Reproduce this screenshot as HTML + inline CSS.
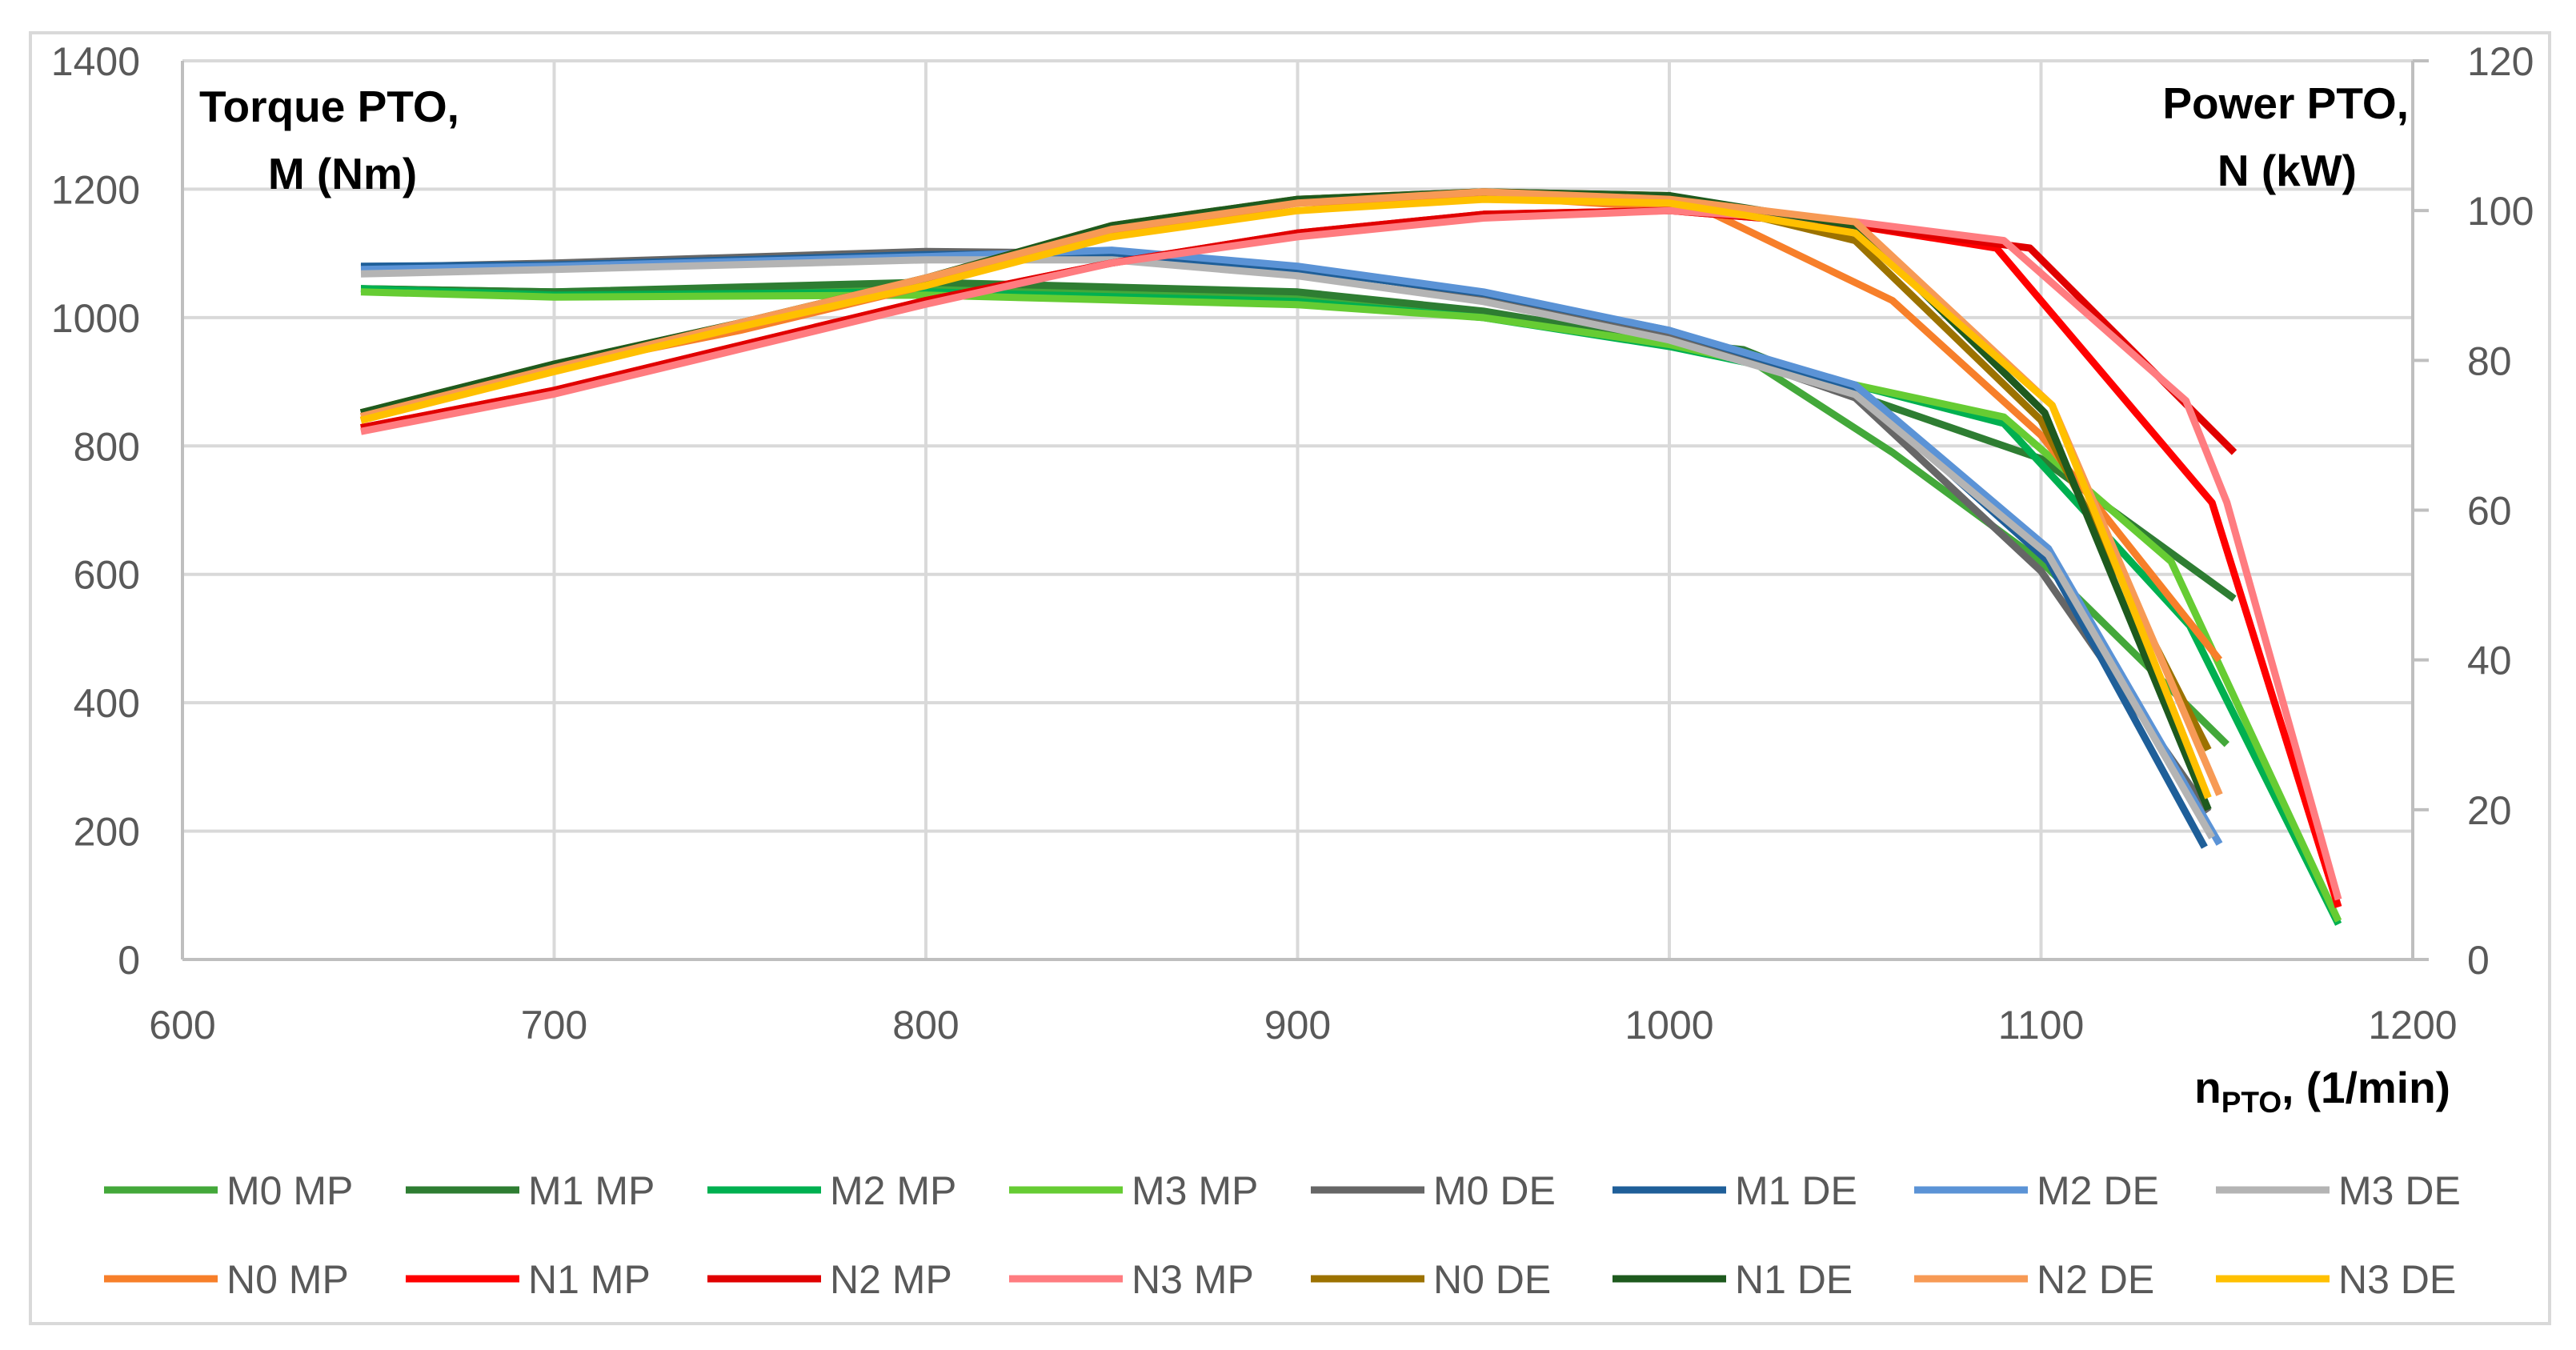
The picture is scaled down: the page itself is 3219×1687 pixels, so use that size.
<!DOCTYPE html>
<html><head><meta charset="utf-8">
<style>
html,body{margin:0;padding:0;background:#fff;}
svg{display:block;font-family:"Liberation Sans",sans-serif;}
</style></head>
<body>
<svg id="chart" width="3219" height="1687" viewBox="0 0 3219 1687">
<rect x="38" y="41" width="3148" height="1613" fill="#fff" stroke="#d9d9d9" stroke-width="4"/>
<g id="grid"></g>
<g id="series"></g>
<g id="labels"></g>
<text x="249" y="152" font-size="55" font-weight="bold" fill="#000">Torque PTO,</text>
<text x="428" y="236" font-size="55" font-weight="bold" fill="#000" text-anchor="middle">M (Nm)</text>
<text x="3010" y="148" font-size="55" font-weight="bold" fill="#000" text-anchor="end">Power PTO,</text>
<text x="2945" y="232" font-size="55" font-weight="bold" fill="#000" text-anchor="end">N (kW)</text>
<text x="3062" y="1378" font-size="55" font-weight="bold" fill="#000" text-anchor="end">n<tspan font-size="37" dy="12">PTO</tspan><tspan dy="-12">, (1/min)</tspan></text>
<g id="legend"></g>
</svg>
<script>
const xTicks=[600,700,800,900,1000,1100,1200];
const yTicks=[0,200,400,600,800,1000,1200,1400];
const y2Ticks=[0,20,40,60,80,100,120];
const names=["M0 MP","M1 MP","M2 MP","M3 MP","M0 DE","M1 DE","M2 DE","M3 DE","N0 MP","N1 MP","N2 MP","N3 MP","N0 DE","N1 DE","N2 DE","N3 DE"];
const colors=["#43a83a","#2e7d32","#00b050","#66cc33","#666666","#1f5f99","#5b93d6","#b4b4b4","#f77f2a","#ff0000","#e00000","#ff7c80","#9c7200","#1e5a1e","#f79a55","#ffc000"];
const rpm=[
[648,700,800,900,950,1000,1020,1060,1100,1150],
[648,700,800,900,950,1000,1020,1050,1100,1152],
[648,700,800,900,950,1000,1050,1090,1140,1180],
[648,700,800,900,950,1000,1050,1090,1135,1180],
[648,700,800,850,900,950,1000,1050,1100,1145],
[648,700,800,850,900,950,1000,1050,1102,1144],
[648,700,800,850,900,950,1000,1050,1102,1148],
[648,700,800,850,900,950,1000,1050,1102,1146],
[648,700,750,800,850,900,950,1010,1060,1100,1148],
[648,700,750,800,850,900,950,1000,1050,1088,1146,1180],
[648,700,750,800,850,900,950,1000,1050,1097,1152],
[648,700,750,800,850,900,950,1000,1050,1090,1139,1150,1180],
[648,700,750,800,850,900,950,1000,1050,1100,1145],
[648,700,750,800,850,900,950,1000,1050,1101,1145],
[648,700,750,800,850,900,950,1000,1050,1103,1148],
[648,700,750,800,850,900,950,1000,1050,1103,1145]];
const vals=[
[1045,1040,1050,1030,1005,960,940,790,620,335],
[1045,1040,1055,1040,1010,962,950,880,780,562],
[1045,1035,1040,1025,1000,955,895,835,520,55],
[1040,1032,1035,1020,1000,958,895,845,620,60],
[1078,1085,1103,1100,1078,1035,975,875,605,230],
[1080,1082,1098,1100,1075,1038,980,890,620,175],
[1075,1080,1095,1105,1080,1040,980,895,640,180],
[1068,1075,1090,1090,1065,1025,965,880,630,190],
[72,79,84,90,97,101,102,100,88,70,40],
[71,76,82,88,93,97,99.5,100,98,95,61,7],
[71,76,82,88,93,97,99.5,100,98,95,67.7],
[70.5,75.5,81.5,87.5,93,96.5,99,100,98.5,96,74.6,61,8],
[73,79.5,85,91,98,101.5,102.5,102,96,72,28],
[73,79.5,85,91,98,101.5,102.5,102,98,73,20],
[72.5,79,85,91,97.5,101,102.5,101.5,98.5,74,22],
[72,78.5,84.5,90,96.5,100,101.5,101,97,74,21.6]];
const isPower=[0,0,0,0,0,0,0,0,1,1,1,1,1,1,1,1];
const L=228,R=3015,B=1199,T=76;
const xS=r=>L+(r-600)/600*(R-L);
const yS=v=>B-v/1400*(B-T);
const y2S=v=>B-v/120*(B-T);
const NS="http://www.w3.org/2000/svg";
function mk(tag,attrs,parent){const e=document.createElementNS(NS,tag);for(const k in attrs)e.setAttribute(k,attrs[k]);parent.appendChild(e);return e;}
const grid=document.getElementById('grid'),labels=document.getElementById('labels');
yTicks.forEach((t,i)=>{
 if(t>0){const g=mk('line',{x1:L,x2:R,y1:yS(t),y2:yS(t),stroke:'#d9d9d9','stroke-width':4},grid);
 
 }
 const tx=mk('text',{x:175,y:yS(t)+18,'font-size':50,fill:'#595959','text-anchor':'end'},labels);tx.textContent=t;
 
 
});
xTicks.forEach(t=>{
 if(t>600){const g=mk('line',{x1:xS(t),x2:xS(t),y1:T,y2:B,stroke:'#d9d9d9','stroke-width':4},grid);
 
 }
 const tx=mk('text',{x:xS(t),y:1298,'font-size':50,fill:'#595959','text-anchor':'middle'},labels);tx.textContent=t;
 
 
});
y2Ticks.forEach(t=>{
 const k=mk('line',{x1:R,x2:R+20,y1:y2S(t),y2:y2S(t),stroke:'#bfbfbf','stroke-width':4},grid);
 
 
 const tx=mk('text',{x:3083,y:y2S(t)+18,'font-size':50,fill:'#595959'},labels);tx.textContent=t;
 
 
});
const ax=mk('line',{x1:L,x2:L,y1:T,y2:B,stroke:'#bfbfbf','stroke-width':4},grid);


const ax2=mk('line',{x1:R,x2:R,y1:T,y2:B,stroke:'#bfbfbf','stroke-width':4},grid);


const axx=mk('line',{x1:L,x2:R+20,y1:B,y2:B,stroke:'#bfbfbf','stroke-width':4},grid);


const sg=document.getElementById('series');
names.forEach((n,i)=>{
 const f=isPower[i]?y2S:yS;
 const pts=rpm[i].map((r,j)=>xS(r).toFixed(1)+','+f(vals[i][j]).toFixed(1)).join(' ');
 const p=mk('polyline',{points:pts,fill:'none',stroke:colors[i],'stroke-width':9,'stroke-linejoin':'round'},sg);
 
 
});
const lg=document.getElementById('legend');
names.forEach((n,i)=>{
 const col=i%8,row=Math.floor(i/8);
 const x=130+col*377,y=row?1598:1487;
 const g=mk('g',{},lg);
 
 
 mk('line',{x1:x,x2:x+142,y1:y,y2:y,stroke:colors[i],'stroke-width':9},g);
 const t=mk('text',{x:x+153,y:y+18,'font-size':50,fill:'#595959'},g);t.textContent=n;
});
</script>
</body></html>
